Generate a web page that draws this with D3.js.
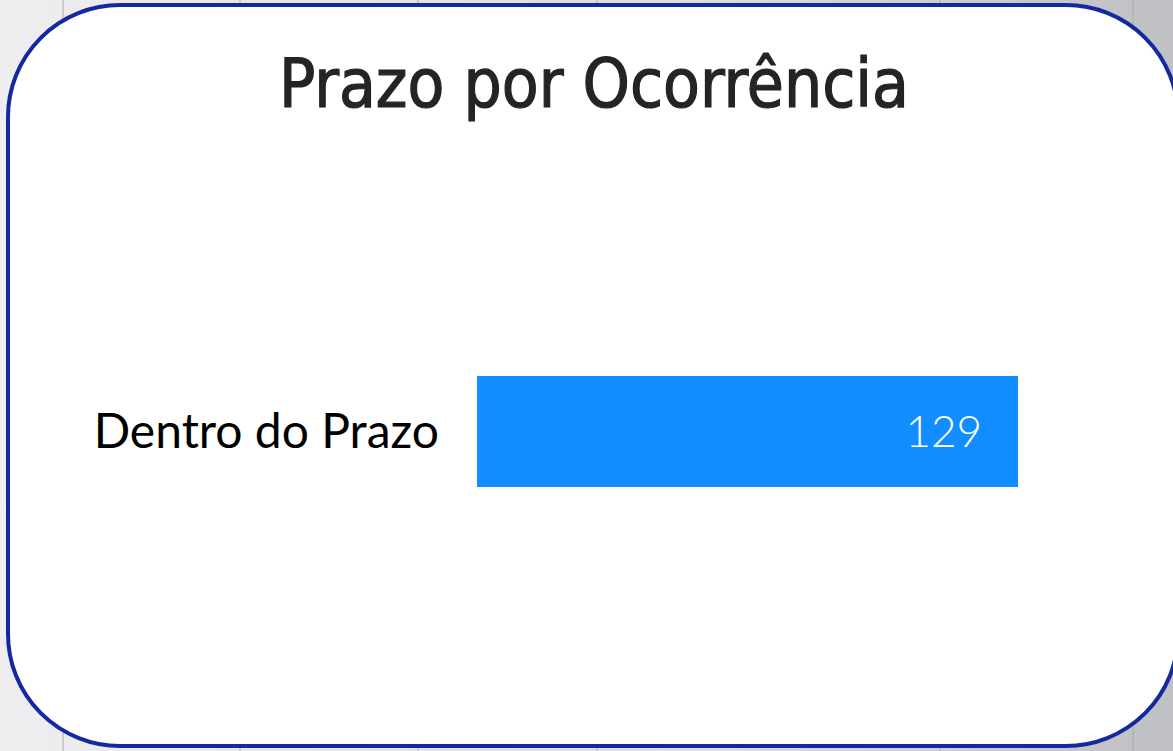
<!DOCTYPE html>
<html lang="pt">
<head>
<meta charset="UTF-8">
<title>Prazo por Ocorrência</title>
<script src="https://d3js.org/d3.v7.min.js"></script>
<style>
  html, body { margin: 0; padding: 0; overflow: hidden; }
  svg { display: block; }
</style>
</head>
<body>
<svg width="1173" height="751"></svg>
<script>
// dados
const categorias = ["Dentro do Prazo"];
const valores = [129];
const titulo = "Prazo por Ocorrência";

const W = 1173, H = 751;
const svg = d3.select("svg");

// fundo do canvas (cinza, com linhas finas)
const defs = svg.append("defs");
const grad = defs.append("linearGradient").attr("id", "bg").attr("x1", 0).attr("x2", 1).attr("y1", 0).attr("y2", 0);
grad.append("stop").attr("offset", "0%").attr("stop-color", "#eeeef0");
grad.append("stop").attr("offset", "60%").attr("stop-color", "#dcdde0");
grad.append("stop").attr("offset", "100%").attr("stop-color", "#bfc0c3");
svg.append("rect").attr("width", W).attr("height", H).attr("fill", "url(#bg)");

[63, 240, 418, 597, 940, 1133].forEach(x => {
  svg.append("line").attr("x1", x).attr("x2", x).attr("y1", 0).attr("y2", H)
     .attr("stroke", "#a9aaad").attr("stroke-width", 1);
});

// cartão
svg.append("rect")
   .attr("x", 8).attr("y", 5)
   .attr("width", 1170).attr("height", 741)
   .attr("rx", 112).attr("ry", 112)
   .attr("fill", "#ffffff")
   .attr("stroke", "#1428a0")
   .attr("stroke-width", 4);

// título
svg.append("text")
   .attr("x", 594).attr("y", 107)
   .attr("text-anchor", "middle")
   .attr("font-family", "'DejaVu Sans Condensed', 'DejaVu Sans', sans-serif")
   .attr("font-size", 67)
   .attr("fill", "#252423")
   .attr("stroke", "#252423")
   .attr("stroke-width", 1.2)
   .text(titulo);

const x = d3.scaleLinear().domain([0, d3.max(valores)]).range([477, 1018]);
const y = d3.scaleBand().domain(categorias).range([376, 487]).padding(0);

const dados = categorias.map((c, i) => ({ c, v: valores[i] }));

svg.selectAll(".bar")
   .data(dados)
   .enter()
   .append("rect")
   .attr("class", "bar")
   .attr("x", x(0))
   .attr("y", d => y(d.c))
   .attr("width", d => x(d.v) - x(0))
   .attr("height", y.bandwidth())
   .attr("fill", "#118dff");

// eixo de categorias
const eixo = svg.append("g")
   .attr("transform", `translate(${x(0) - 26},0)`)
   .call(d3.axisLeft(y).tickSize(0).tickPadding(12));
eixo.select(".domain").remove();
eixo.selectAll("text")
   .attr("font-family", "Lato, 'Open Sans', sans-serif")
   .attr("font-size", 48)
   .attr("fill", "#000000")
   .attr("dy", "0.35em");

// rótulos de dados
svg.selectAll(".label")
   .data(dados)
   .enter()
   .append("text")
   .attr("class", "label")
   .attr("x", d => x(d.v) - 36)
   .attr("y", d => y(d.c) + y.bandwidth() / 2)
   .attr("dy", "0.35em")
   .attr("text-anchor", "end")
   .attr("font-family", "Lato, 'Open Sans', sans-serif")
   .attr("font-weight", 300)
   .attr("font-size", 44)
   .attr("fill", "#ffffff")
   .text(d => d.v);
</script>
</body>
</html>
